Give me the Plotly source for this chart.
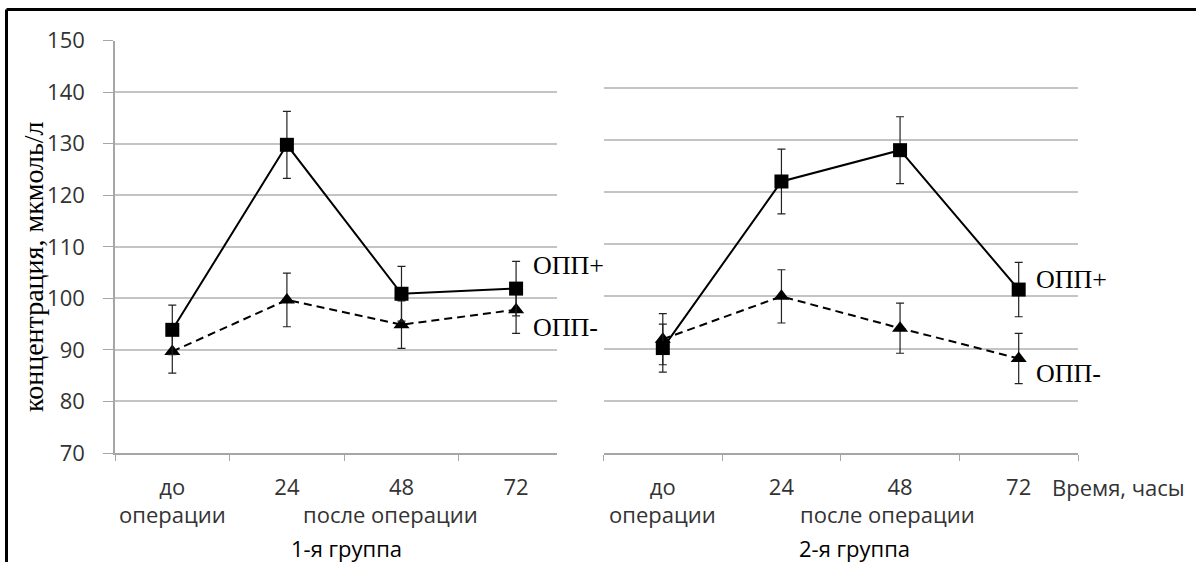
import plotly.graph_objects as go

categories = ["до", "24", "48", "72"]

g1_plus = [93.9, 129.8, 100.9, 101.9]
g1_plus_err = [4.8, 6.5, 5.3, 5.3]
g1_minus = [89.7, 99.7, 94.9, 97.8]
g1_minus_err = [4.2, 5.2, 4.6, 4.6]

g2_plus = [90.1, 122.0, 128.0, 101.3]
g2_plus_err = [4.6, 6.2, 6.4, 5.2]
g2_minus = [91.8, 100.0, 93.9, 88.1]
g2_minus_err = [4.9, 5.1, 4.8, 4.8]

g1_star_cats = ["24"]
g1_star_y = [143.2]
g2_star_cats = ["24", "48"]
g2_star_y = [135.0, 141.0]

y_ticks = [70, 80, 90, 100, 110, 120, 130, 140, 150]

W, H = 1196, 562
SANS = "Open Sans"
SERIF = "Liberation Serif"
TXT = "#333333"
GRID = "#c4c4c4"
FS = 22

fig = go.Figure()


def add_pair(xa, ya, plus, plus_err, minus, minus_err):
    fig.add_trace(go.Scatter(
        x=categories, y=minus, xaxis=xa, yaxis=ya, mode="lines+markers",
        line=dict(color="black", width=2, dash="8px,5px"),
        marker=dict(symbol="triangle-up", size=14, color="black"),
        error_y=dict(type="data", array=minus_err, color="#222222", thickness=1.2, width=4),
        showlegend=False, cliponaxis=False))
    fig.add_trace(go.Scatter(
        x=categories, y=plus, xaxis=xa, yaxis=ya, mode="lines+markers",
        line=dict(color="black", width=2),
        marker=dict(symbol="square", size=14, color="black"),
        error_y=dict(type="data", array=plus_err, color="#222222", thickness=1.2, width=4),
        showlegend=False, cliponaxis=False))


add_pair("x", "y", g1_plus, g1_plus_err, g1_minus, g1_minus_err)
add_pair("x2", "y2", g2_plus, g2_plus_err, g2_minus, g2_minus_err)

def px_x(p):
    return p / W

def px_y(p):
    return 1 - p / H

xcommon = dict(type="category", categoryorder="array", categoryarray=categories,
               tickson="boundaries", ticks="outside", ticklen=6, tickcolor="#a6a6a6",
               showline=True, linecolor="#a6a6a6", linewidth=1.5, showgrid=False,
               tickfont=dict(family=SANS, size=FS, color=TXT), zeroline=False,
               ticklabelstandoff=14, automargin=False)

fig.update_layout(
    width=W, height=H, autosize=False,
    margin=dict(l=0, r=0, t=0, b=0, pad=0, autoexpand=False),
    paper_bgcolor="white", plot_bgcolor="white",
    xaxis=dict(xcommon, domain=[px_x(115), px_x(557)], range=[-0.5, 3.357], anchor="y"),
    xaxis2=dict(xcommon, domain=[px_x(603.5), px_x(1078)], range=[-0.5, 3.5], anchor="y2"),
    yaxis=dict(domain=[px_y(453), px_y(40.7)], range=[70, 150], tickvals=y_ticks,
               showgrid=True, gridcolor=GRID, gridwidth=1.5, showline=True,
               linecolor="#a6a6a6", linewidth=1.5, ticks="outside", ticklen=10,
               tickcolor="#a6a6a6", tickfont=dict(family=SANS, size=FS, color=TXT),
               ticklabelstandoff=14, zeroline=False, anchor="x", automargin=False),
    yaxis2=dict(domain=[px_y(453), px_y(35.3)], range=[70, 150], tickvals=y_ticks,
                showgrid=True, gridcolor=GRID, gridwidth=1.5, showline=False,
                showticklabels=False, ticks="", zeroline=False, anchor="x2",
                automargin=False),
)

ann = []
# y-axis title
ann.append(dict(text="концентрация, мкмоль/л", xref="paper", yref="paper",
                x=px_x(33), y=px_y(267), xanchor="center", yanchor="middle",
                textangle=-90, showarrow=False,
                font=dict(family=SERIF, size=28, color="black")))
# series labels
for xa, ya, yp, ym in [("x", "y", 106.3, 94.4), ("x2", "y2", 103.2, 85.3)]:
    ann.append(dict(text="ОПП+", xref=xa, yref=ya, x=3.13, y=yp, xanchor="left",
                    yanchor="middle", showarrow=False,
                    font=dict(family=SERIF, size=26, color="black")))
    ann.append(dict(text="ОПП-", xref=xa, yref=ya, x=3.13, y=ym, xanchor="left",
                    yanchor="middle", showarrow=False,
                    font=dict(family=SERIF, size=26, color="black")))
# stars
for c, yv in zip(g1_star_cats, g1_star_y):
    ann.append(dict(text="*", xref="x", yref="y", x=c, y=yv, showarrow=False,
                    xanchor="center", yanchor="middle",
                    font=dict(family=SERIF, size=24, color="black")))
for c, yv in zip(g2_star_cats, g2_star_y):
    ann.append(dict(text="*", xref="x2", yref="y2", x=c, y=yv, showarrow=False,
                    xanchor="center", yanchor="middle",
                    font=dict(family=SERIF, size=24, color="black")))
# second-row x labels
for xa, x_post, x_grp, grp in [("x", 1.9, 1.52, "1-я группа"), ("x2", 1.89, 1.62, "2-я группа")]:
    ann.append(dict(text="операции", xref=xa, yref="paper", x=0, y=px_y(514),
                    xanchor="center", yanchor="middle", showarrow=False,
                    font=dict(family=SANS, size=FS, color=TXT)))
    ann.append(dict(text="после операции", xref=xa, yref="paper", x=x_post, y=px_y(514),
                    xanchor="center", yanchor="middle", showarrow=False,
                    font=dict(family=SANS, size=FS, color=TXT)))
    ann.append(dict(text=grp, xref=xa, yref="paper", x=x_grp, y=px_y(548),
                    xanchor="center", yanchor="middle", showarrow=False,
                    font=dict(family=SANS, size=FS, color="black")))
ann.append(dict(text="Время, часы", xref="x2", yref="paper", x=3.26, y=px_y(487),
                xanchor="left", yanchor="middle", showarrow=False,
                font=dict(family=SANS, size=FS, color=TXT)))
fig.update_layout(annotations=ann)

# frame lines (top and left)
fig.update_layout(shapes=[
    dict(type="line", xref="paper", yref="paper", x0=px_x(6.5), x1=1, y0=px_y(9.5), y1=px_y(9.5),
         line=dict(color="black", width=3)),
    dict(type="line", xref="paper", yref="paper", x0=px_x(6.5), x1=px_x(6.5), y0=0, y1=px_y(9.5),
         line=dict(color="black", width=3)),
])

fig.write_html("out.html")
